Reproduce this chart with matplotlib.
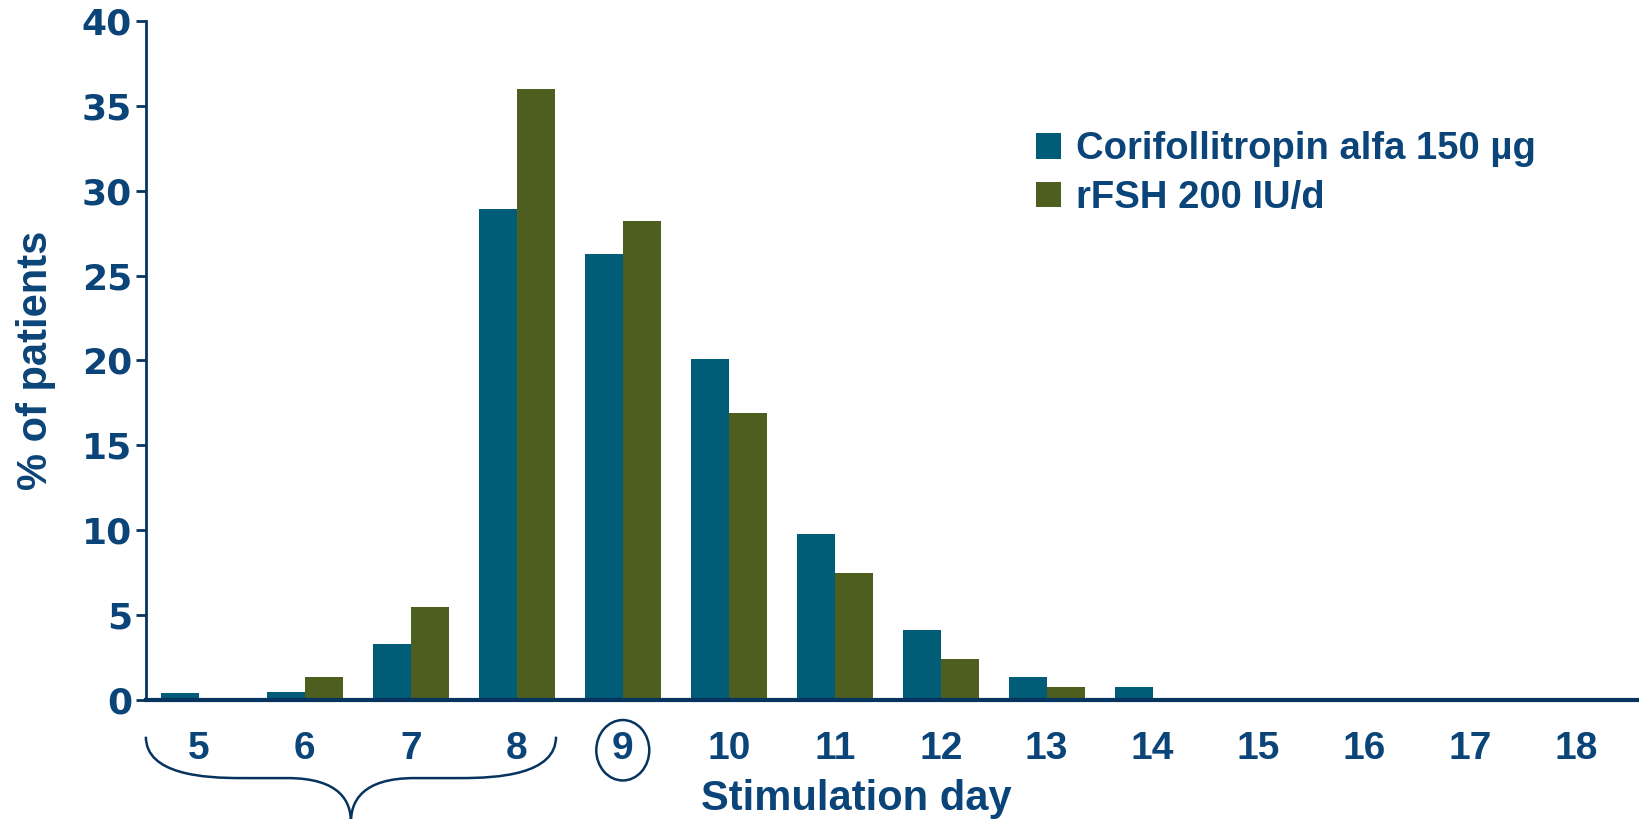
import matplotlib
matplotlib.use("Agg")
from matplotlib import pyplot as plt
from matplotlib.patches import Ellipse, PathPatch
from matplotlib.path import Path
from matplotlib.transforms import blended_transform_factory

days = [5, 6, 7, 8, 9, 10, 11, 12, 13, 14, 15, 16, 17, 18]
corifollitropin = [0.4, 0.5, 3.3, 28.9, 26.3, 20.1, 9.8, 4.1, 1.35, 0.75, 0.1, 0.1, 0.1, 0.0]
rfsh = [0.1, 1.35, 5.5, 36.0, 28.2, 16.9, 7.5, 2.4, 0.75, 0.0, 0.1, 0.0, 0.0, 0.0]
series_labels = ["Corifollitropin alfa 150 µg", "rFSH 200 IU/d"]
yticks = [0, 5, 10, 15, 20, 25, 30, 35, 40]

BLUE = "#005C77"
GREEN = "#4E5E1E"
TEXT = "#0B4478"
AXIS = "#06345F"
NARROW = ["Liberation Sans Narrow", "Liberation Sans", "DejaVu Sans"]

fig = plt.figure(figsize=(16.39, 8.19), dpi=100, facecolor="white")
ax = fig.add_axes([0.089, 0.1453, 0.913, 0.8291])

w = 0.36
ax.bar([d - w / 2 for d in days], corifollitropin, width=w, color=BLUE, label=series_labels[0], zorder=2)
ax.bar([d + w / 2 for d in days], rfsh, width=w, color=GREEN, label=series_labels[1], zorder=2)

ax.set_xlim(4.5, 18.62)
ax.set_ylim(0, 40)
ax.set_yticks(yticks)
ax.set_xticks(days)
ax.set_xticklabels([str(d) for d in days], family=NARROW, fontweight="bold", fontsize=28, color=TEXT)
ax.set_yticklabels([str(t) for t in yticks], family="DejaVu Sans", fontweight="bold", fontsize=26, color=TEXT)
ax.tick_params(axis="x", length=0, pad=22)
ax.tick_params(axis="y", direction="out", length=7, width=2, color=AXIS, pad=3)

for s in ["top", "right"]:
    ax.spines[s].set_visible(False)
ax.spines["left"].set_color(AXIS)
ax.spines["left"].set_linewidth(2)
ax.spines["bottom"].set_color(AXIS)
ax.spines["bottom"].set_linewidth(3)
ax.spines["bottom"].set_zorder(3)

ax.set_ylabel("% of patients", family=NARROW, fontweight="bold", fontsize=30, color=TEXT)
ax.yaxis.set_label_coords(-0.06, 0.5)
ax.text(0.475, -0.162, "Stimulation day", transform=ax.transAxes, ha="center", va="baseline",
        family=NARROW, fontweight="bold", fontsize=30, color=TEXT)

leg = ax.legend(loc="upper left", bbox_to_anchor=(0.572, 0.888), frameon=False,
                prop={"family": NARROW, "weight": "bold", "size": 27.5},
                handlelength=0.65, handleheight=0.65, handletextpad=0.4, labelspacing=0.33)
for t in leg.get_texts():
    t.set_color(TEXT)

# brace under days 5-8 and circle around day 9
tr = blended_transform_factory(ax.transData, ax.transAxes)
x0, x1 = days[0] - 0.5, days[3] + 0.37
xm = (x0 + x1) / 2
ytop, ymid, ybot = -0.054, -0.115, -0.18
verts = [
    (x0, ytop), (x0, ymid + 0.005), (x0 + 0.55, ymid), (x0 + 0.9, ymid),
    (xm - 0.6, ymid),
    (xm - 0.1, ymid), (xm, ybot + 0.03), (xm, ybot),
    (xm, ybot + 0.03), (xm + 0.1, ymid), (xm + 0.6, ymid),
    (x1 - 0.9, ymid),
    (x1 - 0.55, ymid), (x1, ymid + 0.005), (x1, ytop),
]
codes = [Path.MOVETO, Path.CURVE4, Path.CURVE4, Path.CURVE4,
         Path.LINETO,
         Path.CURVE4, Path.CURVE4, Path.CURVE4,
         Path.CURVE4, Path.CURVE4, Path.CURVE4,
         Path.LINETO,
         Path.CURVE4, Path.CURVE4, Path.CURVE4]
ax.add_patch(PathPatch(Path(verts, codes), transform=tr, fill=False, edgecolor=AXIS,
                       linewidth=1.8, clip_on=False))
ax.add_patch(Ellipse((days[4], -0.074), 0.5, 0.089, transform=tr, fill=False,
                     edgecolor=AXIS, linewidth=1.8, clip_on=False))

fig.savefig("out.png", dpi=100, facecolor=fig.get_facecolor())
plt.close(fig)
